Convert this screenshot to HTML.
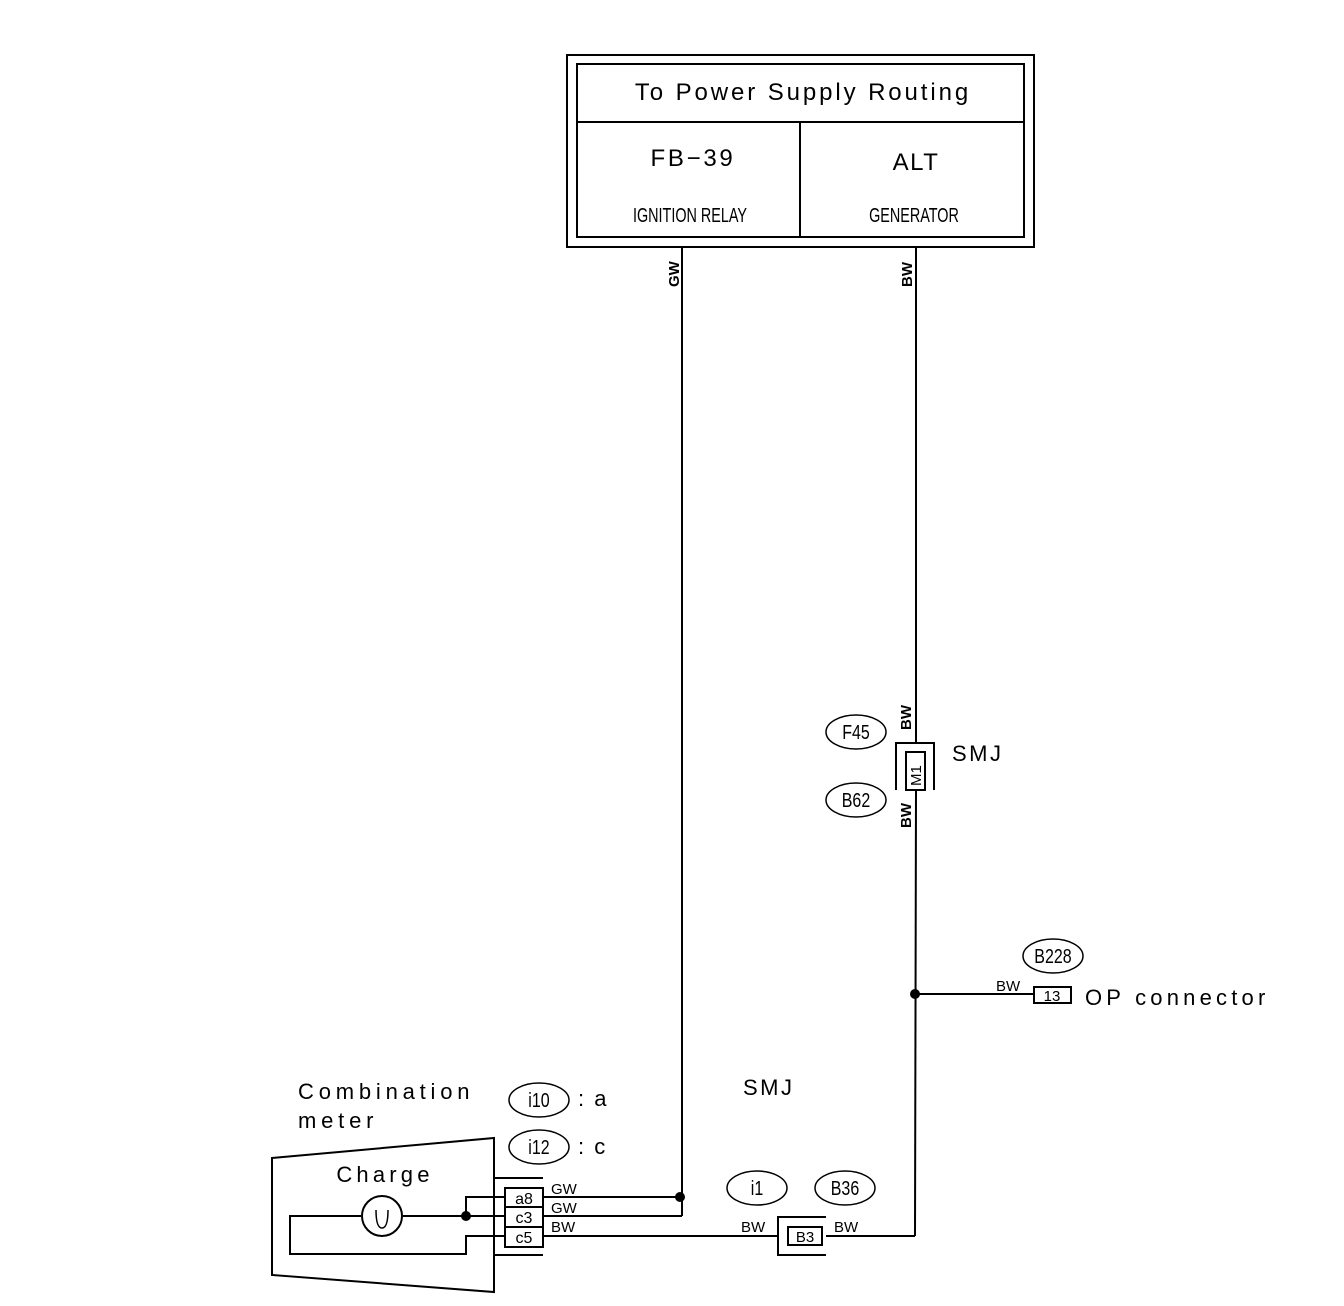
<!DOCTYPE html>
<html><head><meta charset="utf-8"><style>
html,body{margin:0;padding:0;background:#fff;}
svg{display:block;}
text{font-family:"Liberation Sans",sans-serif;fill:#000;}
.n{font-family:"Liberation Sans Narrow","Liberation Sans",sans-serif;}
</style></head><body>
<svg width="1344" height="1306" viewBox="0 0 1344 1306" xmlns="http://www.w3.org/2000/svg">
<g fill="none" stroke="#000" stroke-width="2">
<rect x="567" y="55" width="467" height="192"/>
<rect x="577" y="64" width="447" height="173"/>
<line x1="577" y1="122" x2="1024" y2="122"/>
<line x1="800" y1="122" x2="800" y2="237"/>
<line x1="682" y1="247" x2="682" y2="1216"/>
<line x1="543" y1="1216" x2="682" y2="1216"/>
<line x1="543" y1="1197" x2="682" y2="1197"/>
<line x1="916" y1="247" x2="916" y2="743"/>
<line x1="916" y1="790" x2="915" y2="1236"/>
<polyline points="896,790 896,743 934,743 934,790"/>
<rect x="906" y="752" width="19" height="38"/>
<line x1="915" y1="994" x2="1033" y2="994"/>
<rect x="1034" y="987" width="37" height="16"/>
<line x1="826" y1="1236" x2="915" y2="1236"/>
<polyline points="826,1217 778,1217 778,1255 826,1255"/>
<rect x="788" y="1227" width="34" height="18"/>
<line x1="543" y1="1236" x2="778" y2="1236"/>
<polygon points="272,1158 494,1138 494,1292 272,1275"/>
<line x1="494" y1="1178" x2="543" y2="1178"/>
<line x1="494" y1="1255" x2="543" y2="1255"/>
<rect x="505" y="1188" width="38" height="59"/>
<line x1="505" y1="1207" x2="543" y2="1207"/>
<line x1="505" y1="1227" x2="543" y2="1227"/>
<polyline points="505,1197 466,1197 466,1216"/>
<line x1="403" y1="1216" x2="505" y2="1216"/>
<polyline points="361,1216 290,1216 290,1254 466,1254 466,1236 505,1236"/>
<circle cx="382" cy="1216" r="20"/>
<path d="M376,1210 Q376,1228 382,1228 Q388,1228 388,1210" stroke-width="1.5"/>
<ellipse cx="856" cy="732" rx="30" ry="17" stroke-width="1.5"/>
<ellipse cx="856" cy="800" rx="30" ry="17" stroke-width="1.5"/>
<ellipse cx="1053" cy="956" rx="30" ry="17" stroke-width="1.5"/>
<ellipse cx="757" cy="1188" rx="30" ry="17" stroke-width="1.5"/>
<ellipse cx="845" cy="1188" rx="30" ry="17" stroke-width="1.5"/>
<ellipse cx="539" cy="1100" rx="30" ry="17" stroke-width="1.5"/>
<ellipse cx="539" cy="1147" rx="30" ry="17" stroke-width="1.5"/>
</g>
<circle cx="680" cy="1197" r="5"/>
<circle cx="915" cy="994" r="5"/>
<circle cx="466" cy="1216" r="5"/>
<text x="803" y="100" font-size="24" text-anchor="middle" letter-spacing="2.9">To Power Supply Routing</text>
<text x="693" y="166" font-size="24" text-anchor="middle" letter-spacing="2.7">FB−39</text>
<text x="916" y="170" font-size="24" text-anchor="middle" letter-spacing="1.5">ALT</text>
<text class="n" x="690" y="222" font-size="20" text-anchor="middle" transform="translate(690 0) scale(0.72 1) translate(-690 0)">IGNITION RELAY</text>
<text class="n" x="914" y="222" font-size="20" text-anchor="middle" transform="translate(914 0) scale(0.72 1) translate(-914 0)">GENERATOR</text>
<g font-size="15" font-weight="bold">
<text x="0" y="0" transform="translate(679 287) rotate(-90)">GW</text>
<text x="0" y="0" transform="translate(912 287) rotate(-90)">BW</text>
<text x="0" y="0" transform="translate(911 730) rotate(-90)">BW</text>
<text x="0" y="0" transform="translate(911 828) rotate(-90)">BW</text>
</g>
<text x="0" y="0" font-size="15" transform="translate(921 786) rotate(-90)">M1</text>
<g font-size="20" text-anchor="middle" class="n">
<text x="856" y="739" transform="translate(856 0) scale(0.8 1) translate(-856 0)">F45</text>
<text x="856" y="807" transform="translate(856 0) scale(0.8 1) translate(-856 0)">B62</text>
<text x="1053" y="963" transform="translate(1053 0) scale(0.8 1) translate(-1053 0)">B228</text>
<text x="757" y="1195" transform="translate(757 0) scale(0.8 1) translate(-757 0)">i1</text>
<text x="845" y="1195" transform="translate(845 0) scale(0.8 1) translate(-845 0)">B36</text>
<text x="539" y="1107" transform="translate(539 0) scale(0.8 1) translate(-539 0)">i10</text>
<text x="539" y="1154" transform="translate(539 0) scale(0.8 1) translate(-539 0)">i12</text>
</g>
<text x="952" y="761" font-size="22" letter-spacing="2.5">SMJ</text>
<text x="743" y="1095" font-size="22" letter-spacing="2.5">SMJ</text>
<text x="1085" y="1005" font-size="22" letter-spacing="4.2">OP connector</text>
<g font-size="15">
<text x="996" y="991">BW</text>
<text x="741" y="1232">BW</text>
<text x="834" y="1232">BW</text>
<text x="551" y="1194">GW</text>
<text x="551" y="1213">GW</text>
<text x="551" y="1232">BW</text>
</g>
<text x="1052" y="1001" font-size="15" text-anchor="middle">13</text>
<text x="805" y="1242" font-size="15" text-anchor="middle">B3</text>
<text x="578" y="1106" font-size="22" letter-spacing="2">: a</text>
<text x="578" y="1154" font-size="22" letter-spacing="2">: c</text>
<text x="298" y="1099" font-size="22" letter-spacing="4.8">Combination</text>
<text x="298" y="1128" font-size="22" letter-spacing="4.8">meter</text>
<text x="385" y="1182" font-size="22" text-anchor="middle" letter-spacing="4.2">Charge</text>
<text x="524" y="1204" font-size="16" text-anchor="middle">a8</text>
<text x="524" y="1223" font-size="16" text-anchor="middle">c3</text>
<text x="524" y="1243" font-size="16" text-anchor="middle">c5</text>
</svg>
</body></html>
